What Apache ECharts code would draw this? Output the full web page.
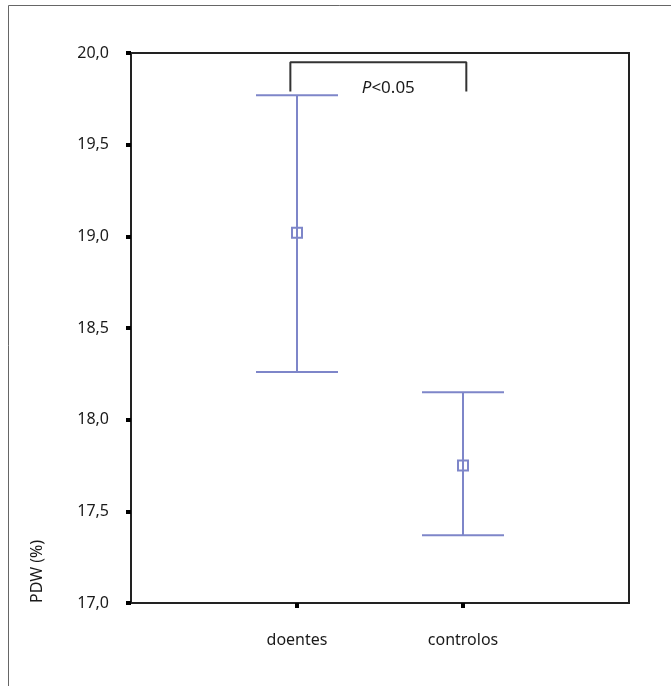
<!DOCTYPE html>
<html>
<head>
<meta charset="utf-8">
<script src="https://cdn.jsdelivr.net/npm/echarts@6/dist/echarts.min.js"></script>
<style>
    html, body { margin: 0; padding: 0; background: #fff; }
    #chart { width: 671px; height: 686px; }
</style>
</head>
<body>
<div id="chart"></div>
<script>
// Data
const groups = ['doentes', 'controlos'];
const groupPos = [1, 2];
const means = [19.02, 17.75];
const upper = [19.77, 18.15];
const lower = [18.26, 17.37];
const yTicks = [17.0, 17.5, 18.0, 18.5, 19.0, 19.5, 20.0];

// significance bracket (in data units)
const bracketX = [0.96, 2.02];
const bracketTop = 19.95;
const bracketFoot = 19.79;
const pLabel = { x: 1.55, y: 19.81 };

const blue = '#7e86c9';
const ink = '#1a1a1a';
const font = 'Noto Sans';

const chart = echarts.init(document.getElementById('chart'));

// error bars drawn with the axes' own scales
function renderErrorBar(params, api) {
    const x = api.value(0);
    const top = api.coord([x, api.value(2)]);
    const bot = api.coord([x, api.value(1)]);
    const half = 41;
    const style = { stroke: blue, lineWidth: 2 };
    return {
        type: 'group',
        children: [
            { type: 'line', shape: { x1: top[0], y1: top[1], x2: bot[0], y2: bot[1] }, style },
            { type: 'line', shape: { x1: top[0] - half, y1: top[1], x2: top[0] + half, y2: top[1] }, style },
            { type: 'line', shape: { x1: bot[0] - half, y1: bot[1], x2: bot[0] + half, y2: bot[1] }, style }
        ]
    };
}

const option = {
    animation: false,
    textStyle: { fontFamily: font },
    grid: { left: 131, top: 53, right: 42, bottom: 83, show: true, borderColor: '#222', borderWidth: 2 },
    xAxis: {
        type: 'value', min: 0, max: 3, interval: 1,
        splitLine: { show: false },
        axisLine: { lineStyle: { color: '#222', width: 2 } },
        axisTick: { customValues: groupPos, length: 5, lineStyle: { color: '#000', width: 4 } },
        axisLabel: {
            customValues: groupPos, margin: 29, fontSize: 16, color: ink, fontFamily: font,
            formatter: v => groups[groupPos.indexOf(v)] || ''
        }
    },
    yAxis: {
        type: 'value', min: yTicks[0], max: yTicks[yTicks.length - 1], interval: 0.5,
        splitLine: { show: false },
        axisLine: { lineStyle: { color: '#222', width: 2 } },
        axisTick: { length: 5, lineStyle: { color: '#000', width: 4 } },
        axisLabel: {
            margin: 22, fontSize: 16, color: ink, fontFamily: font,
            formatter: v => v.toFixed(1).replace('.', ',')
        }
    },
    series: [
        {
            type: 'custom',
            renderItem: renderErrorBar,
            data: groupPos.map((x, i) => [x, lower[i], upper[i]]),
            z: 2
        },
        {
            type: 'scatter',
            symbol: 'rect',
            symbolSize: 10,
            itemStyle: { color: 'rgba(0,0,0,0)', borderColor: blue, borderWidth: 2, opacity: 1 },
            data: groupPos.map((x, i) => [x, means[i]]),
            z: 3
        },
        {
            type: 'line',
            symbol: 'none',
            lineStyle: { color: '#333', width: 2 },
            data: [[bracketX[0], bracketFoot], [bracketX[0], bracketTop], [bracketX[1], bracketTop], [bracketX[1], bracketFoot]],
            z: 4
        },
        {
            type: 'scatter',
            symbolSize: 0,
            itemStyle: { opacity: 1 },
            data: [[pLabel.x, pLabel.y]],
            label: {
                show: true, position: 'inside',
                formatter: '{i|P}<0.05',
                fontSize: 17, color: ink, fontFamily: font,
                rich: { i: { fontStyle: 'italic', fontSize: 17, color: ink, fontFamily: font } }
            },
            z: 5
        }
    ],
    graphic: [
        { type: 'line', shape: { x1: 8.5, y1: 5.5, x2: 671, y2: 5.5 }, style: { stroke: '#666', lineWidth: 1 } },
        { type: 'line', shape: { x1: 8.5, y1: 5.5, x2: 8.5, y2: 686 }, style: { stroke: '#666', lineWidth: 1 } },
        {
            type: 'text', x: 37, y: 603, rotation: Math.PI / 2,
            style: { text: 'PDW (%)', fontSize: 16, fontFamily: font, fill: ink, textAlign: 'left', textVerticalAlign: 'middle' }
        }
    ]
};

chart.setOption(option);
</script>
</body>
</html>
